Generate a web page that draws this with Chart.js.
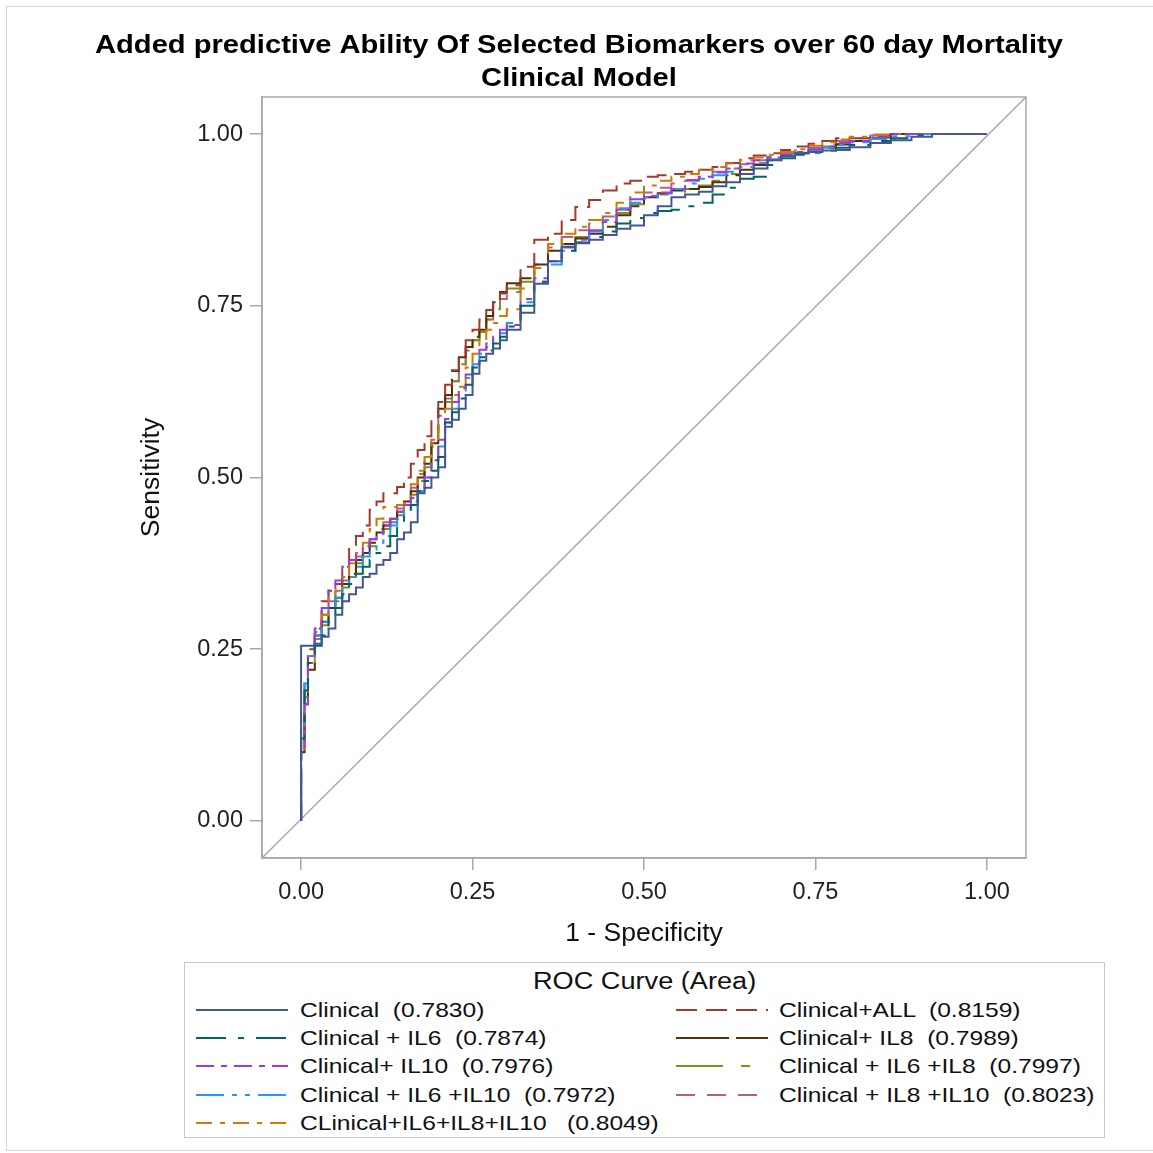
<!DOCTYPE html>
<html>
<head>
<meta charset="utf-8">
<script src="https://cdn.jsdelivr.net/npm/chart.js@4.4.1/dist/chart.umd.min.js"></script>
<style>
  html, body { margin: 0; padding: 0; background: #fff; overflow: hidden; }
  #page { position: relative; width: 1153px; height: 1153px; overflow: hidden; }
  #outer { position: absolute; left: 6px; top: 6px; width: 1200px; height: 1145px; border: 1px solid #d4d4d4; border-right: none; box-sizing: border-box; }
  #c { position: absolute; left: 0; top: 0; }
  #legend { position: absolute; left: 184px; top: 962px; width: 921px; height: 176px; border: 1px solid #c8c8c8; box-sizing: border-box;
            font-family: "Liberation Sans", Arial, sans-serif; color: #111; background: #fff; }
  #legend .ttl { position: absolute; left: 0; width: 100%; top: 4px; text-align: center; font-size: 23px; line-height: 28px; }
  #legend .ttl span { display: inline-block; transform: scaleX(1.18); }
  #legend .item { position: absolute; height: 28px; line-height: 28px; font-size: 21px; white-space: pre; }
  #legend canvas { position: absolute; top: 0; }
  #legend .lbl { position: absolute; top: 0; transform: scaleX(1.17); transform-origin: 0 50%; }
</style>
</head>
<body>
<div id="page">
  <div id="outer"></div>
  <canvas id="c" width="1153" height="1153"></canvas>
  <div id="legend"><div class="ttl"><span>ROC Curve (Area)</span></div></div>
</div>
<script>
// shared 1 - specificity grid (first point is the ROC origin)
const fprGrid = [0, 0, 0.005, 0.01,
  0.02, 0.03, 0.04, 0.05, 0.06, 0.07, 0.08, 0.09, 0.10, 0.11, 0.12, 0.13, 0.14, 0.15, 0.16,
  0.17, 0.18, 0.19, 0.20, 0.21, 0.22, 0.23, 0.24, 0.25, 0.26, 0.27, 0.28, 0.29, 0.30,
  0.32, 0.34, 0.36, 0.38, 0.40, 0.42, 0.44, 0.46, 0.48, 0.50, 0.52, 0.54, 0.56, 0.58, 0.60,
  0.62, 0.64, 0.66, 0.68, 0.70, 0.72, 0.74, 0.76, 0.78, 0.80, 0.83, 0.86, 0.89, 0.92, 0.95, 1.0];

// sensitivity per model
const tprClinical = [0, 0.255, 0.255, 0.255, 0.258, 0.268, 0.28, 0.30, 0.32, 0.33, 0.34, 0.355, 0.36, 0.373, 0.38, 0.39,
  0.41, 0.42, 0.435, 0.477, 0.485, 0.50, 0.515, 0.574, 0.584, 0.60, 0.62, 0.651, 0.67, 0.68, 0.688, 0.70, 0.715,
  0.74, 0.782, 0.815, 0.836, 0.841, 0.846, 0.853, 0.862, 0.867, 0.882, 0.895, 0.908, 0.912, 0.916, 0.924,
  0.93, 0.942, 0.95, 0.962, 0.968, 0.972, 0.974, 0.976, 0.977, 0.981, 0.987, 0.991, 0.996, 1.0, 1.0, 1.0];
const tprIL6 = [0, 0.12, 0.19, 0.23, 0.255, 0.27, 0.29, 0.31, 0.33, 0.345, 0.36, 0.37, 0.38, 0.39, 0.40, 0.415,
  0.43, 0.445, 0.46, 0.48, 0.495, 0.51, 0.53, 0.58, 0.595, 0.615, 0.635, 0.66, 0.675, 0.685, 0.695, 0.705, 0.72,
  0.75, 0.785, 0.815, 0.83, 0.842, 0.85, 0.858, 0.87, 0.878, 0.885, 0.888, 0.89, 0.895, 0.90, 0.912,
  0.922, 0.935, 0.938, 0.955, 0.965, 0.97, 0.973, 0.976, 0.98, 0.984, 0.99, 0.994, 0.998, 1.0, 1.0, 1.0];
const tprIL10 = [0, 0.10, 0.17, 0.23, 0.28, 0.31, 0.336, 0.35, 0.37, 0.38, 0.39, 0.40, 0.41, 0.42, 0.43, 0.44,
  0.45, 0.46, 0.47, 0.485, 0.50, 0.525, 0.555, 0.585, 0.61, 0.63, 0.65, 0.665, 0.686, 0.695, 0.705, 0.715, 0.722,
  0.76, 0.79, 0.815, 0.835, 0.846, 0.86, 0.872, 0.89, 0.905, 0.91, 0.915, 0.92, 0.933, 0.938, 0.944,
  0.95, 0.957, 0.962, 0.966, 0.97, 0.974, 0.978, 0.982, 0.987, 0.99, 0.995, 1.0, 1.0, 1.0, 1.0, 1.0];
const tprIL6IL10 = [0, 0.13, 0.20, 0.24, 0.27, 0.29, 0.31, 0.325, 0.34, 0.355, 0.37, 0.385, 0.395, 0.405, 0.415, 0.43,
  0.44, 0.45, 0.465, 0.48, 0.50, 0.52, 0.545, 0.58, 0.60, 0.625, 0.645, 0.665, 0.68, 0.69, 0.70, 0.71, 0.725,
  0.755, 0.785, 0.81, 0.83, 0.842, 0.858, 0.875, 0.89, 0.90, 0.908, 0.914, 0.92, 0.928, 0.935, 0.94,
  0.945, 0.952, 0.958, 0.963, 0.968, 0.972, 0.976, 0.98, 0.984, 0.988, 0.993, 0.997, 1.0, 1.0, 1.0, 1.0];
const tprAllThree = [0, 0.10, 0.18, 0.23, 0.27, 0.30, 0.325, 0.335, 0.355, 0.375, 0.39, 0.405, 0.425, 0.44, 0.457, 0.457,
  0.46, 0.463, 0.49, 0.51, 0.53, 0.55, 0.58, 0.60, 0.62, 0.632, 0.66, 0.68, 0.70, 0.715, 0.725, 0.735, 0.745,
  0.775, 0.805, 0.84, 0.855, 0.865, 0.875, 0.885, 0.90, 0.915, 0.925, 0.932, 0.938, 0.942, 0.948, 0.952,
  0.957, 0.962, 0.966, 0.97, 0.974, 0.978, 0.983, 0.988, 0.992, 0.996, 0.999, 1.0, 1.0, 1.0, 1.0, 1.0];
const tprALL = [0, 0.12, 0.20, 0.25, 0.28, 0.32, 0.335, 0.345, 0.37, 0.40, 0.415, 0.43, 0.453, 0.465, 0.477, 0.477,
  0.486, 0.50, 0.52, 0.54, 0.56, 0.588, 0.61, 0.635, 0.656, 0.675, 0.70, 0.715, 0.73, 0.744, 0.756, 0.768, 0.78,
  0.807, 0.846, 0.855, 0.875, 0.894, 0.904, 0.918, 0.928, 0.932, 0.938, 0.94, 0.942, 0.945, 0.948, 0.952,
  0.958, 0.965, 0.969, 0.972, 0.977, 0.982, 0.986, 0.99, 0.994, 0.994, 0.999, 1.0, 1.0, 1.0, 1.0, 1.0];
const tprIL8 = [0, 0.10, 0.17, 0.22, 0.27, 0.29, 0.31, 0.325, 0.345, 0.36, 0.38, 0.39, 0.405, 0.42, 0.43, 0.44,
  0.45, 0.465, 0.48, 0.50, 0.52, 0.55, 0.60, 0.62, 0.655, 0.675, 0.69, 0.705, 0.715, 0.735, 0.755, 0.77, 0.783,
  0.79, 0.81, 0.83, 0.84, 0.848, 0.855, 0.865, 0.882, 0.895, 0.908, 0.914, 0.918, 0.92, 0.923, 0.93,
  0.94, 0.948, 0.955, 0.962, 0.968, 0.972, 0.976, 0.98, 0.985, 0.99, 0.995, 1.0, 1.0, 1.0, 1.0, 1.0];
const tprIL6IL8 = [0, 0.11, 0.18, 0.23, 0.265, 0.285, 0.305, 0.32, 0.34, 0.355, 0.375, 0.385, 0.40, 0.41, 0.425, 0.435,
  0.445, 0.46, 0.475, 0.495, 0.515, 0.545, 0.59, 0.61, 0.64, 0.665, 0.685, 0.70, 0.712, 0.73, 0.745, 0.76, 0.775,
  0.785, 0.80, 0.825, 0.84, 0.85, 0.862, 0.872, 0.885, 0.898, 0.906, 0.912, 0.916, 0.92, 0.925, 0.932,
  0.942, 0.95, 0.956, 0.963, 0.968, 0.973, 0.977, 0.982, 0.986, 0.99, 0.996, 1.0, 1.0, 1.0, 1.0, 1.0];
const tprIL8IL10 = [0, 0.12, 0.19, 0.24, 0.275, 0.30, 0.32, 0.335, 0.35, 0.37, 0.385, 0.40, 0.41, 0.425, 0.435, 0.445,
  0.455, 0.47, 0.485, 0.505, 0.525, 0.555, 0.59, 0.615, 0.64, 0.66, 0.685, 0.70, 0.715, 0.73, 0.745, 0.76, 0.77,
  0.79, 0.81, 0.835, 0.85, 0.86, 0.87, 0.88, 0.892, 0.905, 0.915, 0.922, 0.928, 0.932, 0.938, 0.945,
  0.95, 0.956, 0.962, 0.967, 0.972, 0.976, 0.98, 0.985, 0.99, 0.994, 0.998, 1.0, 1.0, 1.0, 1.0, 1.0];

// legend order: left column then right column
const modelNames = ['Clinical', 'Clinical + IL6', 'Clinical+ IL10', 'Clinical + IL6 +IL10', 'CLinical+IL6+IL8+IL10 ',
                    'Clinical+ALL', 'Clinical+ IL8', 'Clinical + IL6 +IL8', 'Clinical + IL8 +IL10'];
const areas = [0.7830, 0.7874, 0.7976, 0.7972, 0.8049, 0.8159, 0.7989, 0.7997, 0.8023];
const tprSeries = [tprClinical, tprIL6, tprIL10, tprIL6IL10, tprAllThree, tprALL, tprIL8, tprIL6IL8, tprIL8IL10];
const colors = ['#445694', '#01665E', '#9D3CDB', '#2597FA', '#D17800', '#A23A2E', '#543005', '#7F8E1F', '#B26084'];
const dashes = [[], [30, 12, 6, 12], [18, 7, 6, 7], [28, 8, 5, 8, 5, 8], [16, 8, 5, 8], [21, 9], [53, 7], [47, 18, 9, 18], [19, 12]];

const titleLines = ['Added predictive Ability Of Selected Biomarkers over 60 day Mortality', 'Clinical Model'];
const tickValues = [0, 0.25, 0.5, 0.75, 1];
const xMin = -0.057, xMax = 1.057, yMin = -0.054, yMax = 1.054;

const FONT = '"Liberation Sans", Arial, sans-serif';

const datasets = tprSeries.map((tpr, i) => ({
  label: modelNames[i],
  data: tpr.map((v, j) => ({ x: fprGrid[j], y: v })),
  borderColor: colors[i],
  borderDash: dashes[i],
  borderWidth: 2,
  pointRadius: 0,
  stepped: 'before',
  fill: false
}));
datasets.push({
  label: 'diag',
  data: [{ x: xMin, y: yMin }, { x: xMax, y: yMax }],
  borderColor: '#a8a8a8',
  borderWidth: 1.5,
  pointRadius: 0,
  fill: false
});

// plot frame on all four sides
const framePlugin = {
  id: 'frame',
  afterDraw(chart) {
    const a = chart.chartArea, ctx = chart.ctx;
    ctx.save();
    ctx.strokeStyle = '#a8a8a8';
    ctx.lineWidth = 1.5;
    ctx.strokeRect(a.left, a.top, a.right - a.left, a.bottom - a.top);
    ctx.restore();
  }
};

// the source title is set wide, so draw it stretched
const wideTitle = {
  id: 'wideTitle',
  afterDraw(chart) {
    const ctx = chart.ctx;
    ctx.save();
    ctx.fillStyle = '#000';
    ctx.font = 'bold 25px ' + FONT;
    ctx.textAlign = 'center';
    ctx.textBaseline = 'middle';
    titleLines.forEach((line, i) => {
      ctx.save();
      ctx.translate(579, 46 + i * 33);
      ctx.scale(1.165, 1);
      ctx.fillText(line, 0, 0);
      ctx.restore();
    });
    ctx.restore();
  }
};

const axisCommon = {
  type: 'linear',
  afterBuildTicks: s => { s.ticks = tickValues.map(v => ({ value: v })); },
  grid: { drawOnChartArea: false, tickLength: 12, color: '#a8a8a8', lineWidth: 1.5 },
  border: { color: '#a8a8a8', width: 1.5 }
};

new Chart(document.getElementById('c'), {
  type: 'line',
  data: { datasets },
  options: {
    responsive: false,
    animation: false,
    layout: { padding: { left: 130, right: 127, top: 97, bottom: 193 } },
    plugins: {
      legend: { display: false },
      tooltip: { enabled: false },
      title: { display: false }
    },
    scales: {
      x: Object.assign({}, axisCommon, {
        min: xMin, max: xMax,
        ticks: { callback: v => v.toFixed(2), color: '#222', font: { family: FONT, size: 23.5 }, padding: 8, maxRotation: 0 },
        title: { display: true, text: '1 - Specificity', color: '#111', font: { family: FONT, size: 26.5 }, padding: { bottom: 10 } },
        afterFit: s => { s.height = 102; }
      }),
      y: Object.assign({}, axisCommon, {
        min: yMin, max: yMax,
        ticks: { callback: v => v.toFixed(2), color: '#222', font: { family: FONT, size: 23.5 }, padding: 7 },
        title: { display: true, text: 'Sensitivity', color: '#111', font: { family: FONT, size: 26.5 }, padding: { top: 6 } },
        afterFit: s => { s.width = 132; }
      })
    }
  },
  plugins: [framePlugin, wideTitle]
});

// legend box built from the same series
const legend = document.getElementById('legend');
const rowTops = [33, 61, 89, 118, 146];
modelNames.forEach((name, i) => {
  const col = i < 5 ? 0 : 1;
  const row = i < 5 ? i : i - 5;
  const item = document.createElement('div');
  item.className = 'item';
  item.style.left = (col === 0 ? 11 : 491) + 'px';
  item.style.top = rowTops[row] + 'px';
  item.style.width = '420px';
  const sample = document.createElement('canvas');
  sample.width = 92; sample.height = 28;
  const g = sample.getContext('2d');
  g.strokeStyle = colors[i];
  g.lineWidth = 2;
  g.setLineDash(dashes[i]);
  g.beginPath(); g.moveTo(0, 14); g.lineTo(92, 14); g.stroke();
  const label = document.createElement('span');
  label.className = 'lbl';
  label.style.left = (col === 0 ? 104 : 103) + 'px';
  label.textContent = name + '  (' + areas[i].toFixed(4) + ')';
  item.appendChild(sample);
  item.appendChild(label);
  legend.appendChild(item);
});
</script>
</body>
</html>
